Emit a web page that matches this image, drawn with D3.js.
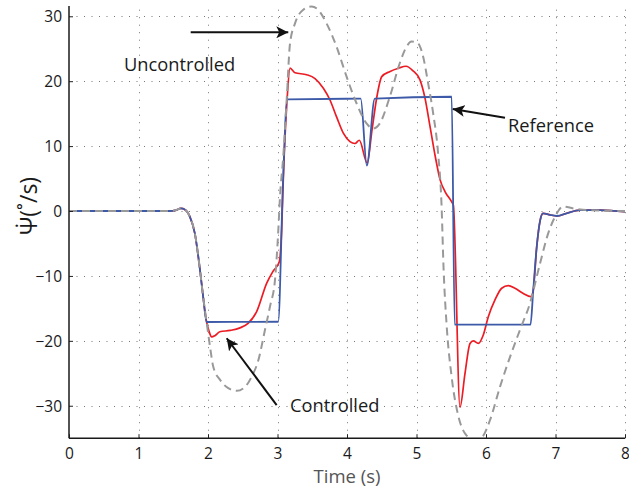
<!DOCTYPE html>
<html>
<head>
<meta charset="utf-8">
<script src="https://cdn.jsdelivr.net/npm/d3@7"></script>
<style>
  html, body { margin: 0; padding: 0; background: #fff; }
  svg { display: block; }
  text { font-family: "Open Sans", "Noto Sans", sans-serif; }
</style>
</head>
<body>
<svg id="chart" width="629" height="490"></svg>
<script>
// ---------- data ----------
const xTicks = [0, 1, 2, 3, 4, 5, 6, 7, 8];
const yTicks = [-30, -20, -10, 0, 10, 20, 30];

// shared start (all three responses coincide up to ~2 s)
const startT = [0, 0.8, 1.45, 1.53, 1.61, 1.67, 1.74, 1.81, 1.885, 1.93, 1.98];
const startV = [0, 0, 0, 0.1, 0.4, 0.2, -0.9, -3.4, -9.1, -13.2, -17.1];

// Reference (blue)
const refT = [3.01, 3.08, 3.14, 4.197, 4.285, 4.40, 5.506, 5.55, 6.64, 6.68, 6.73, 6.78, 6.82, 6.92, 7.02, 7.16, 7.35, 7.64, 8.0];
const refV = [-17.06, 4.8, 17.2, 17.3, 7.0, 17.3, 17.6, -17.5, -17.5, -12.2, -5.5, -1.4, -0.35, -0.6, -0.77, -0.35, 0.15, 0.15, -0.1];

// Controlled (red)
const ctrlT = [2.014, 2.053, 2.10, 2.17, 2.317, 2.46, 2.576, 2.70, 2.845, 2.935, 3.026, 3.06, 3.083, 3.137, 3.18, 3.252, 3.42, 3.54, 3.66, 3.755, 3.85, 3.947, 4.043, 4.115, 4.177, 4.29, 4.36, 4.43, 4.50, 4.62, 4.74, 4.85, 4.95, 5.05, 5.12, 5.195, 5.27, 5.34, 5.41, 5.507, 5.53, 5.626, 5.698, 5.77, 5.817, 5.889, 5.961, 6.033, 6.129, 6.226, 6.32, 6.417, 6.537, 6.647, 6.68, 6.73, 6.78, 6.82, 6.92, 7.02, 7.16, 7.35, 7.64, 8.0];
const ctrlV = [-18.5, -19.4, -19.2, -18.6, -18.4, -18.0, -17.3, -15.5, -11.1, -9.3, -7.8, -2.9, 4.8, 17.0, 22.0, 21.3, 21.0, 20.4, 18.9, 17.1, 14.5, 12.0, 10.7, 10.4, 10.9, 7.4, 12.5, 17.6, 20.7, 21.5, 22.0, 22.3, 21.6, 20.2, 17.5, 13.0, 8.4, 4.8, 3.0, 1.4, 0.9, -30.2, -25.0, -20.4, -20.0, -20.4, -19.1, -16.3, -13.7, -11.9, -11.5, -11.9, -12.7, -13.2, -12.2, -5.5, -1.4, -0.35, -0.6, -0.77, -0.35, 0.15, 0.15, -0.1];

// Uncontrolled (grey dashed)
const uncT = [2.029, 2.076, 2.173, 2.292, 2.413, 2.532, 2.629, 2.724, 2.82, 2.892, 2.964, 3.012, 3.036, 3.083, 3.132, 3.18, 3.252, 3.371, 3.49, 3.585, 3.706, 3.85, 3.994, 4.137, 4.281, 4.376, 4.472, 4.616, 4.76, 4.856, 4.928, 5.023, 5.095, 5.167, 5.239, 5.31, 5.36, 5.39, 5.433, 5.505, 5.60, 5.70, 5.83, 5.945, 6.058, 6.201, 6.345, 6.489, 6.633, 6.777, 6.896, 6.993, 7.112, 7.256, 7.448, 8.0];
const uncV = [-20.9, -24.0, -26.0, -27.3, -27.7, -27.1, -25.5, -23.0, -18.3, -14.7, -10.6, -2.9, 2.2, 8.4, 17.1, 25.8, 28.9, 31.0, 31.5, 31.0, 28.9, 25.3, 20.7, 16.6, 13.5, 12.7, 13.5, 17.6, 22.8, 25.3, 26.1, 25.8, 23.8, 19.7, 15.1, 9.0, 1.0, -9.0, -17.5, -25.5, -31.5, -34.3, -35.3, -34.8, -32.2, -27.1, -22.5, -18.3, -14.2, -8.1, -3.4, -0.9, 0.7, 0.4, 0.15, 0.0];

// annotations
const annTexts = ["Uncontrolled", "Reference", "Controlled"];
const annTextPos = [[0.791, 21.5], [6.317, 12.17], [3.18, -31.0]];
const annArrows = [[1.751, 27.53, 3.155, 27.53], [6.273, 14.38, 5.521, 15.72], [2.988, -29.9, 2.269, -19.6]];

// ---------- drawing ----------
const svg = d3.select("#chart");
svg.append("rect").attr("width", 629).attr("height", 490).attr("fill", "#fff");

const x = d3.scaleLinear().domain([0, 8]).range([69, 625]);
const y = d3.scaleLinear().domain([-35, 32]).range([438.2, 3.3]);
const yTop = y(31.6);

function zip(t, v) { return t.map((d, i) => [d, v[i]]); }
const start = zip(startT, startV);
const refData = start.concat(zip(refT, refV));
const ctrlData = start.concat(zip(ctrlT, ctrlV));
const uncData = start.concat(zip(uncT, uncV));

// grid
const grid = svg.append("g").attr("stroke", "#777").attr("stroke-width", 1)
  .attr("stroke-dasharray", "1,6.5");
grid.selectAll("line.v").data(xTicks.filter(d => d > 0)).enter().append("line")
  .attr("x1", d => Math.round(x(d)) + 0.5).attr("x2", d => Math.round(x(d)) + 0.5)
  .attr("y1", y(-35)).attr("y2", yTop);
grid.selectAll("line.h").data(yTicks).enter().append("line")
  .attr("y1", d => Math.round(y(d)) + 0.5).attr("y2", d => Math.round(y(d)) + 0.5)
  .attr("x1", x(0)).attr("x2", x(8));

// clip
svg.append("defs").append("clipPath").attr("id", "plotclip").append("rect")
  .attr("x", x(0)).attr("y", yTop - 2).attr("width", x(8) - x(0)).attr("height", y(-35) - yTop + 2);

const line = d3.line().x(d => x(d[0])).y(d => y(d[1])).curve(d3.curveMonotoneX);
const lines = svg.append("g").attr("clip-path", "url(#plotclip)").attr("fill", "none");

lines.append("path").datum(ctrlData).attr("d", line)
  .attr("stroke", "#ec1c24").attr("stroke-width", 1.7);
lines.append("path").datum(refData).attr("d", line)
  .attr("stroke", "#3d5aa8").attr("stroke-width", 1.8);
lines.append("path").datum(uncData).attr("d", line)
  .attr("stroke", "#999").attr("stroke-width", 2).attr("stroke-dasharray", "8,5");

// axes
const fmt = d3.format("d");
const xAxis = d3.axisBottom(x).tickValues(xTicks).tickSizeInner(-4).tickSizeOuter(0).tickPadding(10).tickFormat(fmt);
const yAxis = d3.axisLeft(y).tickValues(yTicks).tickSizeInner(-4).tickSizeOuter(0).tickPadding(7).tickFormat(fmt);

const gx = svg.append("g").attr("transform", `translate(0,${y(-35)})`).call(xAxis);
const gy = svg.append("g").attr("transform", `translate(${x(0)},0)`).call(yAxis);
[gx, gy].forEach(g => {
  g.select(".domain").remove();
  g.selectAll(".tick line").attr("stroke", "#222").attr("stroke-width", 1);
  g.selectAll(".tick text").attr("font-family", "'Open Sans', sans-serif").attr("font-size", 15.5).attr("fill", "#1a1a1a");
});
gy.selectAll(".tick text").attr("dy", "0.36em");
svg.append("line").attr("x1", x(0)).attr("x2", x(8)).attr("y1", y(-35)).attr("y2", y(-35))
  .attr("stroke", "#1a1a1a").attr("stroke-width", 1.5);
svg.append("line").attr("x1", x(0)).attr("x2", x(0)).attr("y1", y(-35)).attr("y2", yTop)
  .attr("stroke", "#1a1a1a").attr("stroke-width", 1.5);

// axis labels
svg.append("text").attr("x", (x(0) + x(8)) / 2).attr("y", 483)
  .attr("text-anchor", "middle").attr("font-size", 18.5).attr("fill", "#555").text("Time (s)");
svg.append("text").attr("transform", "translate(37,235) rotate(-90)")
  .attr("text-anchor", "start").attr("font-size", 23).attr("fill", "#1a1a1a").text("\u03A8\u0307(\u02DA/s)");

// annotations
const defs = svg.select("defs");
defs.append("marker").attr("id", "arrowhead").attr("markerUnits", "userSpaceOnUse")
  .attr("viewBox", "0 0 12 12").attr("refX", 12).attr("refY", 6)
  .attr("markerWidth", 12).attr("markerHeight", 12).attr("orient", "auto")
  .append("path").attr("d", "M0,0 L12,6 L0,12 L3,6 Z").attr("fill", "#111");

annArrows.forEach(a => {
  svg.append("line").attr("x1", x(a[0])).attr("y1", y(a[1])).attr("x2", x(a[2])).attr("y2", y(a[3]))
    .attr("stroke", "#111").attr("stroke-width", 2).attr("marker-end", "url(#arrowhead)");
});
annTexts.forEach((t, i) => {
  svg.append("text").attr("x", x(annTextPos[i][0])).attr("y", y(annTextPos[i][1]))
    .attr("font-size", 18.3).attr("fill", "#1a1a1a").text(t);
});
</script>
</body>
</html>
